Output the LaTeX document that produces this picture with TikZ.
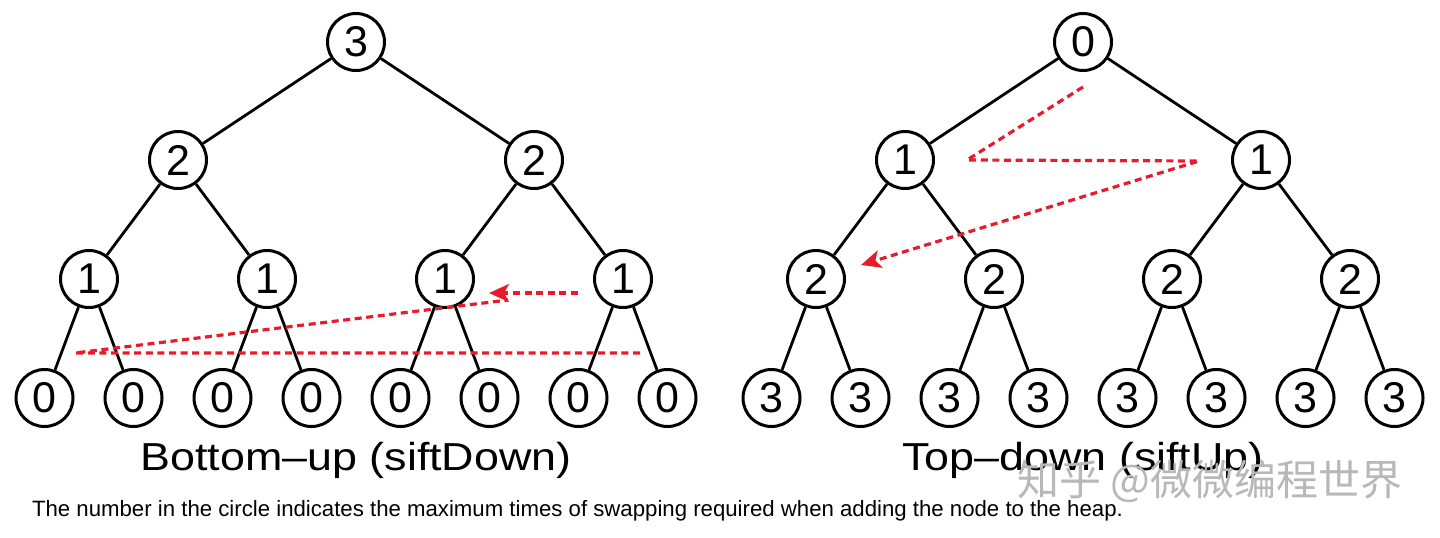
\documentclass[tikz,border=0pt]{standalone}
\usepackage{fontspec}
\setmainfont{Liberation Sans}
\newfontfamily\titlefont[FakeStretch=1.15]{Liberation Sans}
\newfontfamily\cjkfont{Noto Sans CJK SC}
\usetikzlibrary{arrows.meta}
\definecolor{arrowred}{RGB}{230,28,45}
\begin{document}
\begin{tikzpicture}[x=0.5pt,y=-0.5pt,
  heapnode/.style={circle,draw=black,line width=1.5pt,inner sep=0pt,minimum size=28.5pt,
    font=\fontsize{21.5}{21.5}\selectfont},
  edge/.style={draw=black,line width=1.4pt},
  reddash/.style={draw=arrowred,line width=1.6pt,dash pattern=on 3.5pt off 2.3pt},
  redtip/.style={-{Stealth[length=10pt,width=9pt,inset=2.5pt]}},
  title/.style={anchor=base,font=\titlefont\fontsize{19.5}{19.5}\selectfont},
  caption/.style={anchor=base west,font=\fontsize{11.1}{11.1}\selectfont},
  watermark/.style={font=\cjkfont\fontsize{21}{21}\selectfont,text=black!28}]
\useasboundingbox (0,0) rectangle (1440,537);
% nodes of both trees
\foreach \d/\yy in {0/42,1/160,2/279,3/398}{
  \pgfmathtruncatemacro\n{2^\d}
  \pgfmathtruncatemacro\lv{3-\d}
  \foreach \k in {1,...,\n}{
    \pgfmathsetmacro\xx{(\k-0.5)*712/\n}
    \node[heapnode] (l\d-\k) at (\xx,\yy) {\lv};
    \node[heapnode] (r\d-\k) at (727+\xx,\yy) {\d};
  }
}
% edges
\foreach \d in {1,2,3}{
  \pgfmathtruncatemacro\n{2^\d}
  \pgfmathtruncatemacro\pd{\d-1}
  \foreach \k in {1,...,\n}{
    \pgfmathtruncatemacro\pk{(\k+1)/2}
    \draw[edge] (l\pd-\pk) -- (l\d-\k);
    \draw[edge] (r\pd-\pk) -- (r\d-\k);
  }
}
% red dashed paths, left tree
\coordinate (a1) at (640,353);
\coordinate (a2) at (75,353);
\coordinate (a3) at (508,300);
\coordinate (b1) at (578,293);
\coordinate (b2) at (489,293);
\draw[reddash] (a1) -- (a2) -- (a3);
\draw[reddash,redtip] (b1) -- (b2);
% red dashed path, right tree
\coordinate (c1) at (1083,87);
\coordinate (c2) at (967,160);
\coordinate (c3) at (1199,161);
\coordinate (c4) at (861,265);
\draw[reddash,redtip] (c1) -- (c2) -- (c3) -- (c4);
% texts
\node[title] (t1) at (356,470) {Bottom–up (siftDown)};
\node[title] (t2) at (1083,470) {Top–down (siftUp)};
\node[watermark] (wm) at (1210,481) {知乎 @微微编程世界};
\node[caption] (cap) at (25,516.5) {The number in the circle indicates the maximum times of swapping required when adding the node to the heap.};
\end{tikzpicture}
\end{document}
